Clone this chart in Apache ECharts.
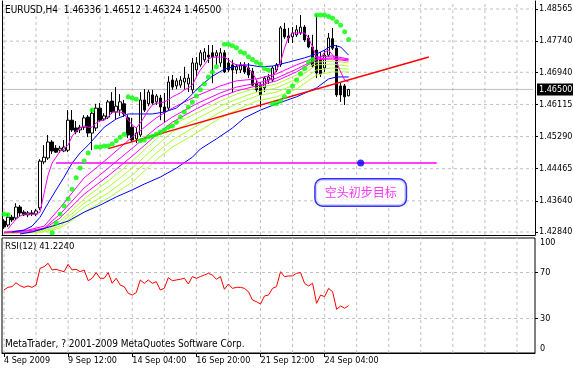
<!DOCTYPE html>
<html><head><meta charset="utf-8">
<script src="https://cdn.jsdelivr.net/npm/echarts@6/dist/echarts.min.js"></script>
<style>html,body{margin:0;padding:0;background:#fff}#c{width:573px;height:369px}</style>
</head><body><div id="c"></div>
<script>
const FONT = '"DejaVu Sans Condensed", "Liberation Sans Narrow", sans-serif';
const symbolTitle = 'EURUSD,H4  1.46336 1.46512 1.46324 1.46500';
const rsiTitle = 'RSI(12) 41.2240';
const copyright = 'MetaTrader, ? 2001-2009 MetaQuotes Software Corp.';
const annotationText = '空头初步目标';
const slotCount = 133;
const xTickStep = 16;
const xGridStep = 8;
const xTickLabels = ['4 Sep 2009', '9 Sep 12:00', '14 Sep 04:00', '16 Sep 20:00', '21 Sep 12:00', '24 Sep 04:00'];
const priceTicks = [1.48565, 1.47740, 1.46940, 1.46115, 1.45290, 1.44465, 1.43640, 1.42840];
const bidPrice = 1.46500;
const priceMin = 1.42763, priceMax = 1.48770;
const rsiGridLevels = [70, 30];
const rsiEdgeLabels = [100, 0];

const opens = [1.4312,1.4302,1.4322,1.4320,1.4348,1.4335,1.4328,1.4333,1.4330,1.4346,
1.4464,1.4474,1.4515,1.4499,1.4494,1.4492,1.4494,1.4571,1.4551,1.4546,
1.4553,1.4579,1.4538,1.4551,1.4602,1.4574,1.4579,1.4620,1.4592,1.4597,
1.4613,1.4577,1.4553,1.4523,1.4533,1.4623,1.4613,1.4636,1.4618,1.4628,
1.4605,1.4602,1.4674,1.4659,1.4661,1.4669,1.4664,1.4649,1.4700,1.4713,
1.4726,1.4738,1.4744,1.4736,1.4718,1.4744,1.4718,1.4713,1.4700,1.4700,
1.4713,1.4705,1.4697,1.4666,1.4661,1.4654,1.4674,1.4674,1.4700,1.4713,
1.4805,1.4787,1.4785,1.4790,1.4795,1.4810,1.4782,1.4759,1.4751,1.4726,
1.4705,1.4738,1.4780,1.4756,1.4659,1.4659,1.46336];
const closes = [1.4297,1.4322,1.4315,1.4348,1.4333,1.4328,1.4333,1.4330,1.4338,1.4466,
1.4476,1.4515,1.4492,1.4489,1.4499,1.4502,1.4571,1.4546,1.4541,1.4553,
1.4577,1.4538,1.4589,1.4602,1.4571,1.4582,1.4618,1.4592,1.4607,1.4618,
1.4587,1.4533,1.4520,1.4538,1.4623,1.4597,1.4643,1.4615,1.4633,1.4605,
1.4592,1.4669,1.4656,1.4672,1.4674,1.4679,1.4679,1.4718,1.4718,1.4744,
1.4746,1.4733,1.4733,1.4744,1.4744,1.4695,1.4700,1.4700,1.4708,1.4713,
1.4695,1.4687,1.4661,1.4649,1.4636,1.4679,1.4682,1.4705,1.4713,1.4808,
1.4785,1.4782,1.4795,1.4803,1.4810,1.4777,1.4759,1.4710,1.4692,1.4690,
1.4738,1.4782,1.4756,1.4636,1.4636,1.4631,1.46500];
const lows = [1.4292,1.4297,1.4310,1.4315,1.4325,1.4325,1.4322,1.4325,1.4325,1.4340,
1.4458,1.4469,1.4484,1.4487,1.4487,1.4489,1.4489,1.4541,1.4535,1.4538,
1.4546,1.4528,1.4494,1.4543,1.4566,1.4569,1.4574,1.4587,1.4574,1.4582,
1.4579,1.4525,1.4515,1.4512,1.4528,1.4592,1.4607,1.4610,1.4610,1.4571,
1.4564,1.4597,1.4649,1.4651,1.4654,1.4649,1.4643,1.4641,1.4682,1.4708,
1.4720,1.4718,1.4666,1.4713,1.4708,1.4692,1.4695,1.4643,1.4690,1.4692,
1.4690,1.4679,1.4659,1.4643,1.4605,1.4643,1.4664,1.4669,1.4695,1.4708,
1.4780,1.4769,1.4769,1.4785,1.4790,1.4772,1.4756,1.4705,1.4679,1.4682,
1.4695,1.4733,1.4751,1.4631,1.4618,1.4610,1.46324];
const highs = [1.4317,1.4330,1.4328,1.4358,1.4353,1.4340,1.4338,1.4340,1.4343,1.4471,
1.4507,1.4533,1.4520,1.4507,1.4505,1.4520,1.4597,1.4597,1.4569,1.4559,
1.4584,1.4584,1.4600,1.4613,1.4615,1.4589,1.4623,1.4643,1.4656,1.4638,
1.4623,1.4584,1.4577,1.4553,1.4643,1.4651,1.4649,1.4649,1.4638,1.4636,
1.4641,1.4684,1.4687,1.4679,1.4684,1.4708,1.4690,1.4731,1.4733,1.4751,
1.4756,1.4764,1.4764,1.4751,1.4756,1.4751,1.4731,1.4726,1.4715,1.4720,
1.4720,1.4718,1.4705,1.4674,1.4669,1.4684,1.4690,1.4710,1.4718,1.4813,
1.4821,1.4808,1.4810,1.4815,1.4841,1.4815,1.4790,1.4790,1.4841,1.4746,
1.4751,1.4795,1.4808,1.4764,1.4669,1.4664,1.46512];

const fastMA = [null,1.4292,1.4305,1.4317,1.4325,1.4330,1.4330,1.4330,1.4330,1.4335,
1.4384,1.4430,1.4461,1.4476,1.4492,1.4497,1.4507,1.4530,1.4543,1.4551,
1.4556,1.4553,1.4553,1.4564,1.4569,1.4571,1.4579,1.4592,1.4592,1.4592,
1.4589,1.4571,1.4559,1.4551,1.4564,1.4579,1.4597,1.4610,1.4615,1.4615,
1.4618,1.4623,1.4631,1.4636,1.4641,1.4649,1.4654,1.4661,1.4682,1.4700,
1.4713,1.4728,1.4733,1.4733,1.4733,1.4733,1.4726,1.4718,1.4713,1.4713,
1.4713,1.4705,1.4692,1.4674,1.4661,1.4661,1.4674,1.4682,1.4700,1.4720,
1.4756,1.4785,1.4795,1.4795,1.4795,1.4795,1.4782,1.4759,1.4733,1.4731,
1.4746,1.4751,1.4738,1.4720,1.4695,1.4674,1.4669];

const sar = [1.4330,1.4328,null,null,null,null,null,null,null,null,
null,null,1.4282,1.4307,1.4330,1.4351,1.4369,1.4394,1.4423,1.4448,
1.4466,1.4487,1.4597,1.4502,1.4502,1.4505,1.4505,1.4510,1.4518,1.4527,
1.4535,1.4631,1.4628,1.4625,1.4518,1.4520,1.4528,1.4530,1.4535,1.4541,
1.4546,1.4553,1.4556,1.4566,1.4579,1.4592,1.4605,1.4618,1.4633,1.4649,
1.4664,1.4682,1.4695,1.4708,null,1.4766,1.4766,1.4762,1.4757,1.4747,
1.4743,1.4734,1.4727,1.4720,1.4715,1.4704,1.4700,1.4613,1.4614,1.4620,
1.4631,1.4644,1.4659,1.4674,1.4690,1.4704,1.4719,1.4727,1.4841,1.4841,
1.4841,1.4837,1.4833,1.4824,1.4815,1.4798,1.4778];

const ribbonM1 = [[0,1.4284],[6,1.4289],[10,1.4299],[14,1.4346],[20,1.4423],[26,1.4474],[32,1.4528],[38,1.4577],[42,1.4602],[48,1.4633],[54,1.4659],[58,1.4672],[63,1.4677],[68,1.4690],[73,1.4713],[78,1.4733],[82,1.4736],[86,1.4728]];
const ribbonM2 = [[0,1.4282],[6,1.4287],[10,1.4294],[14,1.4330],[20,1.4397],[26,1.4448],[32,1.4499],[38,1.4551],[42,1.4579],[48,1.4613],[54,1.4641],[58,1.4656],[63,1.4666],[68,1.4679],[73,1.4702],[78,1.4728],[82,1.4731],[86,1.4726]];
const ribbonM3 = [[0,1.4282],[6,1.4284],[10,1.4292],[14,1.4320],[20,1.4381],[26,1.4428],[32,1.4479],[38,1.4533],[42,1.4566],[48,1.4600],[54,1.4631],[58,1.4646],[63,1.4659],[68,1.4672],[73,1.4695],[78,1.4726],[82,1.4728],[86,1.4723]];
const ribbonG1 = [[0,1.4284],[6,1.4287],[10,1.4292],[14,1.4312],[20,1.4369],[26,1.4415],[32,1.4466],[38,1.4523],[42,1.4559],[48,1.4589],[54,1.4620],[58,1.4638],[63,1.4654],[68,1.4664],[73,1.4687],[78,1.4720],[82,1.4723],[86,1.4718]];
const ribbonG2 = [[0,1.4282],[6,1.4284],[10,1.4289],[14,1.4305],[20,1.4358],[26,1.4399],[32,1.4448],[38,1.4505],[42,1.4541],[48,1.4574],[54,1.4607],[58,1.4625],[63,1.4643],[68,1.4654],[73,1.4677],[78,1.4713],[82,1.4715],[86,1.4710]];
const ribbonG3 = [[0,1.4282],[6,1.4284],[10,1.4287],[14,1.4299],[20,1.4348],[26,1.4384],[32,1.4430],[38,1.4487],[42,1.4520],[48,1.4556],[54,1.4592],[58,1.4613],[63,1.4633],[68,1.4643],[73,1.4664],[78,1.4700],[82,1.4705],[86,1.4702]];
const ribbonG4 = [[0,1.4279],[6,1.4282],[10,1.4284],[14,1.4294],[20,1.4335],[26,1.4371],[32,1.4412],[38,1.4469],[42,1.4502],[48,1.4538],[54,1.4577],[58,1.4597],[63,1.4620],[68,1.4631],[73,1.4651],[78,1.4687],[82,1.4695],[86,1.4695]];
const upperBlue = [[2,1.4284],[5,1.4289],[7,1.4299],[9,1.4322],[11,1.4358],[13,1.4392],[15,1.4425],[17,1.4461],[19,1.4487],[21,1.4507],[23,1.4530],[25,1.4553],[28,1.4574],[31,1.4587],[34,1.4587],[37,1.4587],[40,1.4592],[43,1.4602],[46,1.4628],[49,1.4659],[52,1.4684],[55,1.4702],[58,1.4710],[61,1.4713],[64,1.4708],[67,1.4710],[71,1.4720],[75,1.4731],[78,1.4741],[80,1.4751],[82,1.4764],[84,1.4759],[86,1.4738]];
const lowerBlue = [[4,1.4279],[7,1.4284],[12,1.4299],[16,1.4312],[20,1.4335],[24,1.4353],[28,1.4374],[32,1.4392],[35,1.4407],[39,1.4425],[43,1.4448],[47,1.4476],[49,1.4497],[53,1.4523],[57,1.4551],[60,1.4577],[64,1.4597],[68,1.4613],[73,1.4631],[78,1.4654],[81,1.4677],[83,1.4682],[86,1.4682]];
const trendLine = [[26,1.4498],[106,1.4733]];
const targetLine = [[13,1.4461],[108,1.4461]];
const targetPoint = [89,1.4461];
const annotationPoint = [89,1.43854];

const rsi = [54.8,57.1,57.7,61.1,58.5,57.1,58.3,57.1,59.1,73.6,
75.1,78.0,72.2,72.8,71.6,70.7,77.1,72.2,72.8,70.7,
72.2,62.9,65.0,69.9,65.0,65.0,69.9,60.6,65.0,59.1,
57.7,51.9,50.4,52.5,63.5,60.6,63.5,60.6,62.0,54.8,
56.2,65.5,62.9,63.5,64.1,65.0,60.0,66.4,65.0,66.4,
67.8,69.3,67.8,64.1,66.4,55.4,60.0,56.2,57.1,57.1,
56.2,53.3,46.1,44.6,42.6,49.6,50.4,56.2,57.7,70.7,
66.4,67.0,67.0,69.3,69.9,60.6,58.3,60.6,43.2,50.4,
49.0,56.2,53.3,38.0,40.9,38.9,41.2];

const cats = Array.from({length: slotCount}, (_, i) => String(i));
const lastSlot = slotCount - 1;
const showTick = (i) => i % xTickStep === 0 && (i / xTickStep) < xTickLabels.length;
const vIdx = [];
for (let i = 0; i < slotCount; i += xGridStep) vIdx.push(i);
const candles = opens.map((o, i) => [o, closes[i], lows[i], highs[i]]);
const gridLine = {color: '#c0c0c0', type: [3, 3], width: 1};
const txt = (size) => ({fontFamily: FONT, fontSize: size, color: '#000', fontWeight: 'normal'});

const lineS = (data, color, z, width, ax) => ({
  type: 'line', data, xAxisIndex: ax || 0, yAxisIndex: ax || 0, showSymbol: false, symbol: 'none',
  lineStyle: Object.assign({width: width || 1}, typeof color === 'string' ? {color} : color),
  z: z || 3, silent: true, connectNulls: true, animation: false
});

const gridSeries = []
  .concat(priceTicks.map(v => lineS([[0, v], [lastSlot, v]], gridLine, 1, 1, 0)))
  .concat(vIdx.map(i => lineS([[i, priceMin], [i, priceMax]], gridLine, 1, 1, 0)))
  .concat([lineS([[0, bidPrice], [lastSlot, bidPrice]], {color: '#c0c0c0', type: 'solid'}, 1, 1, 0)])
  .concat(rsiGridLevels.map(v => lineS([[0, v], [lastSlot, v]], gridLine, 1, 1, 1)))
  .concat(vIdx.map(i => lineS([[i, 0], [i, 100]], gridLine, 1, 1, 1)));

const chart = echarts.init(document.getElementById('c'), null, {renderer: 'canvas'});
chart.setOption({
  animation: false,
  backgroundColor: '#fff',
  title: [
    {text: symbolTitle, left: 5, top: 5, padding: 0, textStyle: txt(10)},
    {text: rsiTitle, left: 5, top: 242, padding: 0, textStyle: txt(9.5)},
    {text: copyright, left: 5, top: 339, padding: 0, textStyle: txt(10)}
  ],
  grid: [
    {left: 2, right: 38, top: 1, height: 234, show: false},
    {left: 2, right: 38, top: 238, height: 115, show: true, borderColor: '#000', borderWidth: 1}
  ],
  xAxis: [
    {type: 'category', gridIndex: 0, data: cats, boundaryGap: true,
     axisLine: {show: true, onZero: false, lineStyle: {color: '#000', width: 1}},
     axisTick: {show: false}, axisLabel: {show: false}, splitLine: {show: false}},
    {type: 'category', gridIndex: 1, data: cats, boundaryGap: true,
     axisLine: {show: true, onZero: false, lineStyle: {color: '#000', width: 1}},
     axisTick: {show: true, alignWithLabel: true, interval: (i) => showTick(i), length: 4, lineStyle: {color: '#000'}},
     axisLabel: Object.assign({show: true, interval: (i) => showTick(i), align: 'left', margin: 3,
       formatter: (v, i) => showTick(i) ? xTickLabels[i / xTickStep] : ''}, txt(9)),
     splitLine: {show: false}}
  ],
  yAxis: [
    {type: 'value', gridIndex: 0, position: 'right', min: priceMin, max: priceMax,
     axisLine: {show: true, onZero: false, lineStyle: {color: '#000', width: 1}},
     axisTick: {show: true, customValues: priceTicks, length: 3, lineStyle: {color: '#000'}},
     axisLabel: {show: false}, splitLine: {show: false}},
    {type: 'value', gridIndex: 1, position: 'right', min: 0, max: 100,
     axisLine: {show: false},
     axisTick: {show: true, customValues: rsiGridLevels, length: 3, lineStyle: {color: '#000'}},
     axisLabel: {show: false}, splitLine: {show: false}},
    {type: 'value', gridIndex: 0, position: 'left', min: priceMin, max: priceMax,
     axisLine: {show: true, onZero: false, lineStyle: {color: '#000', width: 1}},
     axisTick: {show: false}, axisLabel: {show: false}, splitLine: {show: false}}
  ],
  series: gridSeries.concat([
    {type: 'line', xAxisIndex: 0, yAxisIndex: 0, data: [], z: 7, silent: true,
     markLine: {silent: true, symbol: ['none', 'none'], animation: false, precision: 5,
       lineStyle: {color: 'transparent', width: 1},
       label: Object.assign({show: true, position: 'end', distance: 4, formatter: (p) => Number(p.value).toFixed(5)}, txt(9)),
       data: priceTicks.map(v => ({yAxis: v}))
         .concat([{yAxis: bidPrice,
           label: Object.assign({show: true, position: 'end', distance: 2, backgroundColor: '#000',
             padding: [2, 2, 1, 2], formatter: (p) => Number(p.value).toFixed(5)}, txt(9), {color: '#fff'})}])
     }},
    {type: 'candlestick', xAxisIndex: 0, yAxisIndex: 0, data: candles, barWidth: 3, z: 2, silent: true,
     itemStyle: {color: '#fff', color0: '#000', borderColor: '#000', borderColor0: '#000', borderWidth: 1}},
    lineS(ribbonG4, '#adff2f'), lineS(ribbonG3, '#adff2f'), lineS(ribbonG2, '#adff2f'), lineS(ribbonG1, '#adff2f'),
    lineS(ribbonM3, '#ff00ff'), lineS(ribbonM2, '#ff00ff'), lineS(ribbonM1, '#ff00ff'),
    lineS(lowerBlue, '#0000ff'), lineS(upperBlue, '#0000ff'),
    lineS(fastMA, '#ff00ff', 4),
    lineS(trendLine, '#ff0000', 4, 1.5),
    lineS(targetLine, '#ff00ff', 4, 1.5),
    {type: 'scatter', xAxisIndex: 0, yAxisIndex: 0, data: sar, symbol: 'circle', symbolSize: 5,
     itemStyle: {color: '#00ff00'}, z: 5, silent: true},
    {type: 'scatter', xAxisIndex: 0, yAxisIndex: 0, data: [targetPoint], symbolSize: 7,
     itemStyle: {color: '#0000ff'}, z: 6, silent: true},
    {type: 'scatter', xAxisIndex: 0, yAxisIndex: 0, data: [annotationPoint], symbolSize: 0, z: 6, silent: true,
     label: {show: true, position: 'inside', formatter: annotationText, color: '#ff00ff',
       fontFamily: '"Noto Sans CJK SC", sans-serif', fontSize: 12, lineHeight: 14,
       backgroundColor: '#fff', borderColor: '#0000ff', borderWidth: 1.5, borderRadius: 7, padding: [6, 9, 6, 9]}},
    {type: 'line', xAxisIndex: 1, yAxisIndex: 1, data: rsi, showSymbol: false, symbol: 'none', z: 3, silent: true,
     lineStyle: {color: '#ff0000', width: 1},
     markLine: {silent: true, symbol: ['none', 'none'], animation: false, precision: 0,
       lineStyle: {color: 'transparent', width: 1},
       label: Object.assign({show: true, position: 'end', distance: 5, formatter: (p) => String(p.value)}, txt(9)),
       data: rsiGridLevels.map(v => ({yAxis: v})).concat([
         {yAxis: rsiEdgeLabels[0], label: {verticalAlign: 'top'}},
         {yAxis: rsiEdgeLabels[1], label: {verticalAlign: 'bottom'}}
       ])
     }}
  ])
});
</script>
</body></html>
